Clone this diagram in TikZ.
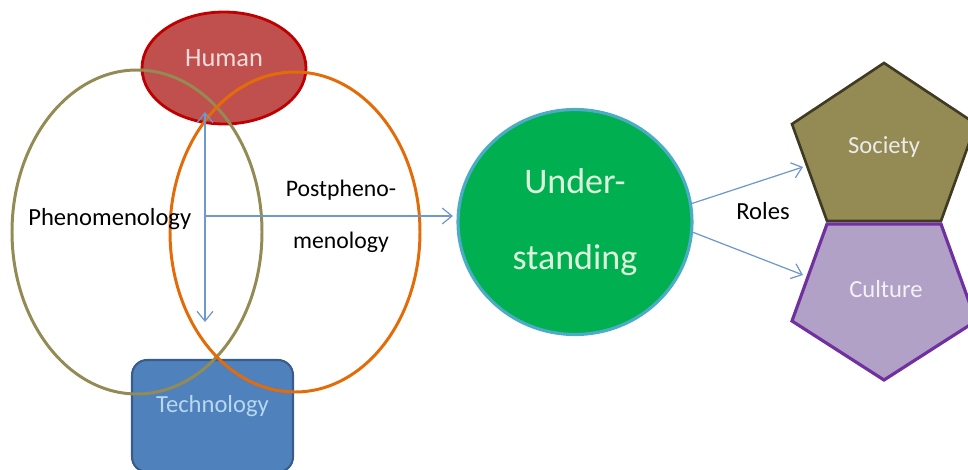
\documentclass[tikz,border=0pt]{standalone}
\usepackage{fontspec}
\setmainfont{Carlito}
\usetikzlibrary{shapes.geometric, arrows.meta, positioning}

\definecolor{humanfill}{HTML}{C0504D}
\definecolor{humanline}{HTML}{C00000}
\definecolor{humantext}{HTML}{F2DCDB}
\definecolor{techfill}{HTML}{4F81BD}
\definecolor{techline}{HTML}{385D8A}
\definecolor{techtext}{HTML}{B9D7EE}
\definecolor{phenoline}{HTML}{948A54}
\definecolor{postline}{HTML}{E36C09}
\definecolor{linkblue}{HTML}{6F98CC}
\definecolor{understfill}{HTML}{00B050}
\definecolor{understline}{HTML}{4BACC6}
\definecolor{understtext}{HTML}{DDF2DD}
\definecolor{societyfill}{HTML}{948A54}
\definecolor{societyline}{HTML}{3F3A22}
\definecolor{cultfill}{HTML}{B2A1C7}
\definecolor{cultline}{HTML}{7030A0}

\begin{document}
\begin{tikzpicture}[
      x=0.02cm,
      y=-0.02cm,
      >={Straight Barb[length=5.5pt,width=9pt]},
      human/.style={
          ellipse,
          draw=humanline,
          line width=1.6pt,
          fill=humanfill,
          text=humantext,
          inner sep=0pt,
          minimum width=3.28cm,
          minimum height=2.24cm,
          text depth=11pt,
          font=\fontsize{15pt}{18pt}\selectfont
        },
      tech/.style={
          rectangle,
          rounded corners=0.3cm,
          draw=techline,
          line width=1.2pt,
          fill=techfill,
          text=techtext,
          inner sep=0pt,
          minimum width=3.22cm,
          minimum height=2.24cm,
          text depth=14pt,
          font=\fontsize{14pt}{17pt}\selectfont
        },
      pheno/.style={
          draw=phenoline,
          line width=1.7pt
        },
      post/.style={
          draw=postline,
          line width=1.7pt
        },
      label/.style={
          align=center,
          text=black,
          inner sep=0pt,
          font=\fontsize{14pt}{17pt}\selectfont
        },
      underst/.style={
          ellipse,
          draw=understline,
          line width=1.8pt,
          fill=understfill,
          text=understtext,
          align=center,
          inner sep=0pt,
          minimum width=4.68cm,
          minimum height=4.5cm,
          font=\fontsize{20.5pt}{43.6pt}\selectfont
        },
      penta/.style={
          inner sep=0pt,
          font=\fontsize{14pt}{17pt}\selectfont
        },
      link/.style={
          ->,
          draw=linkblue,
          line width=0.7pt
        }
    ]

    \useasboundingbox (0,0) rectangle (968,470);
    \begin{scope}
    \clip (0,0) rectangle (968,470);

    % Nodes
    \node[human] (human) at (224,68) {Human};
    \node[tech] (tech) at (212.5,416) {Technology};

    \draw[pheno] (137,232) ellipse [x radius=125, y radius=162];
    \draw[post] (295,232) ellipse [x radius=125, y radius=160];

    \node[label, anchor=base west] (phenolabel) at (28,225) {Phenomenology};
    \node[label, font=\fontsize{13.5pt}{29.5pt}\selectfont] (postlabel) at (341,216) {Postpheno-\\menology};

    \node[underst] (underst) at (575,222) {Under-\\standing};

    \draw[fill=societyfill, draw=societyline, line width=1.5pt]
      (884,63) -- (976,124) -- (941,221) -- (827,221) -- (792,124) -- cycle;
    \draw[fill=cultfill, draw=cultline, line width=1.8pt]
      (827,224) -- (941,224) -- (976,321) -- (884,380) -- (792,321) -- cycle;
    \node[penta, text=white!92!black, anchor=base] (society) at (884,153) {Society};
    \node[penta, text=white!95!black, anchor=base] (culture) at (886,297) {Culture};
    \node[label, anchor=base] (roles) at (763,219) {Roles};

    \coordinate (vtop) at (205,112);
    \coordinate (vbot) at (205,322);
    \coordinate (hstart) at (205,216);
    \coordinate (socin) at (803,167);
    \coordinate (cultin) at (803,275);

    % Arrows
    \draw[link, <->] (vtop) -- (vbot);
    \draw[link, shorten >=2pt] (hstart) -- (hstart -| underst.west);
    \draw[link] (underst.9) -- (socin);
    \draw[link] (underst.-5) -- (cultin);
    \end{scope}

  \end{tikzpicture}
\end{document}
